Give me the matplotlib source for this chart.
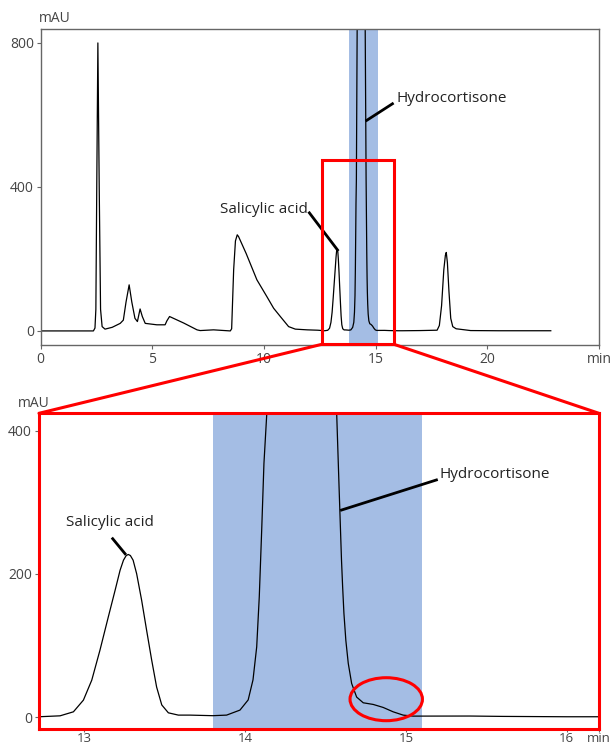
import matplotlib
matplotlib.use('Agg')
import matplotlib.pyplot as plt
from matplotlib.patches import Rectangle, Ellipse, ConnectionPatch

plt.rcParams['font.family'] = ['Open Sans', 'DejaVu Sans']

# chromatogram trace (time in min, absorbance in mAU)
time_min = [0.00, 2.36, 2.43, 2.47, 2.51, 2.56, 2.62, 2.68, 2.75, 2.88, 3.20, 3.56, 3.70,
            3.82, 3.96, 4.08, 4.22, 4.33, 4.45, 4.55, 4.68, 5.20, 5.57, 5.65, 5.77,
            6.40, 7.00, 7.14, 7.74, 8.49, 8.55, 8.64, 8.72, 8.80, 8.86, 9.20, 9.68,
            10.13, 10.43, 10.73, 11.10, 11.40, 11.93, 12.40, 12.72, 12.851, 12.934, 12.996,
            13.048, 13.099, 13.151, 13.193, 13.224, 13.245, 13.262, 13.275, 13.288, 13.305,
            13.327, 13.358, 13.389, 13.420, 13.451, 13.483, 13.524, 13.586, 13.658, 13.80,
            13.886, 13.969, 14.020, 14.050, 14.073, 14.089, 14.104, 14.118, 14.135, 14.17,
            14.25, 14.36, 14.47, 14.53, 14.57, 14.585, 14.600, 14.607, 14.615, 14.627,
            14.642, 14.663, 14.694, 14.735, 14.797, 14.859, 14.921, 14.983, 15.045, 15.40,
            15.60, 16.00, 16.20, 17.00, 17.75, 17.85, 17.95, 18.05, 18.12, 18.16, 18.21,
            18.28, 18.36, 18.45, 18.60, 19.25, 20.50, 22.84]
signal_mau = [0, 0, 8, 60, 400, 800, 400, 60, 12, 5, 10, 21, 30,
              80, 128, 80, 35, 26, 61, 40, 21, 17, 17, 28, 40,
              22, 3, 1, 3, 0, 6, 170, 250, 267, 262, 215, 142,
              95, 63, 40, 12, 5, 3, 2, 0.5, 1.8, 7.4, 23.7,
              51.6, 93.5, 140, 177, 205, 219, 225.5, 227, 225.5, 219,
              200, 163, 121, 80, 42, 17, 6, 2.8, 2.8, 2,
              2.8, 9.8, 24, 52, 98, 168, 261, 354, 421, 840,
              1600, 2500, 1600, 840, 424, 320, 219, 182, 145, 107,
              75, 47, 28, 20, 17.7, 13.5, 7.4, 2.8, 1.4, 1.5,
              1, 0.5, 0.5, 1, 2, 15, 70, 170, 210, 218, 190,
              110, 35, 12, 6, 1, 0.5, 0.5]

band = (13.8, 15.1)          # hydrocortisone window
zoom_x = (12.60, 15.81)      # zoomed region on the full run
zoom_y = (-37, 475)

red = '#ff0000'
blue = '#a4bde4'
grey = '#444444'

fig = plt.figure(figsize=(6.13, 7.47), dpi=100)
ax1 = fig.add_axes([0.0664, 0.5382, 0.9108, 0.4236])
ax2 = fig.add_axes([0.0636, 0.0237, 0.9135, 0.4230])

# --- full run ---
ax1.axvspan(band[0], band[1], color=blue, lw=0, zorder=0)
ax1.plot(time_min, signal_mau, color='black', lw=0.9)
ax1.set_xlim(0, 25)
ax1.set_ylim(-39, 840)
ax1.set_xticks([0, 5, 10, 15, 20, 25])
ax1.set_xticklabels(['0', '5', '10', '15', '20', 'min'])
ax1.set_yticks([0, 400, 800])
for s in ax1.spines.values():
    s.set_color('#666666')
    s.set_linewidth(1)

ax1.add_patch(Rectangle((zoom_x[0], zoom_y[0]), zoom_x[1] - zoom_x[0],
                        zoom_y[1] - zoom_y[0], fill=False, ec=red, lw=2.2,
                        clip_on=False, zorder=5))

ax1.plot([12.03, 13.29], [328, 225], color='black', lw=2)
ax1.text(11.95, 336, 'Salicylic acid', ha='right', va='center', fontsize=11, color='#222222')
ax1.plot([15.75, 14.60], [631, 585], color='black', lw=2)
ax1.text(15.92, 647, 'Hydrocortisone', ha='left', va='center', fontsize=11, color='#222222')

# --- zoomed view ---
ax2.axvspan(band[0], band[1], color=blue, lw=0, zorder=0)
ax2.plot(time_min, signal_mau, color='black', lw=0.9)
ax2.set_xlim(12.72, 16.2)
ax2.set_ylim(-17, 424)
ax2.set_xticks([13, 14, 15, 16, 16.2])
ax2.set_xticklabels(['13', '14', '15', '16', 'min'])
ax2.set_yticks([0, 200, 400])
for s in ax2.spines.values():
    s.set_color(red)
    s.set_linewidth(2.2)

ax2.plot([13.178, 13.255], [249, 228], color='black', lw=2)
ax2.text(13.163, 271, 'Salicylic acid', ha='center', va='center', fontsize=11, color='#222222')
ax2.plot([15.19, 14.60], [331, 289], color='black', lw=2)
ax2.text(15.211, 338, 'Hydrocortisone', ha='left', va='center', fontsize=11, color='#222222')
ax2.add_patch(Ellipse((14.878, 25), 0.45, 60, fill=False, ec=red, lw=2.2, zorder=5))

for ax in (ax1, ax2):
    ax.tick_params(length=3, width=0.8, color='#666666', labelsize=10,
                   labelcolor=grey, pad=2)
ax2.tick_params(axis='x', length=2, pad=0, labelsize=9.5)

fig.text(39 / 613, 1 - 19 / 747, 'mAU', ha='left', va='center', fontsize=10, color=grey)
fig.text(18 / 613, 1 - 403 / 747, 'mAU', ha='left', va='center', fontsize=10, color=grey)

# red lines joining the zoom box with the lower panel
for xa, xb in ((zoom_x[0], 0), (zoom_x[1], 1)):
    con = ConnectionPatch(xyA=(xa, zoom_y[0]), coordsA=ax1.transData,
                          xyB=(xb, 1), coordsB=ax2.transAxes, color=red, lw=2.2)
    fig.add_artist(con)

fig.savefig('out.png', dpi=100)
